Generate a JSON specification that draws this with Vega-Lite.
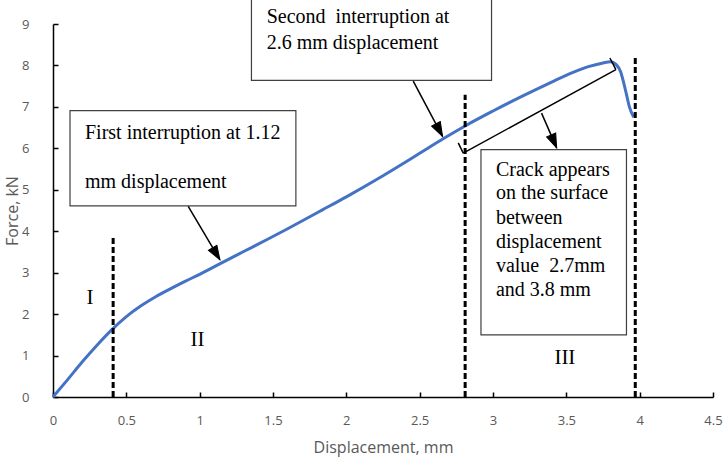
{
  "$schema": "https://vega.github.io/schema/vega-lite/v6.json",
  "width": 660,
  "height": 373,
  "autosize": {"type": "none"},
  "padding": {"left": 53, "top": 24, "right": 13, "bottom": 65},
  "background": "white",
  "config": {
    "view": {"stroke": null},
    "axis": {
      "domainColor": "#000000",
      "domainWidth": 1.5,
      "tickColor": "#000000",
      "tickWidth": 1.5,
      "tickSize": -5,
      "grid": false,
      "labelColor": "#595959",
      "labelFont": "Open Sans",
      "labelFontSize": 13,
      "titleColor": "#595959",
      "titleFont": "Open Sans",
      "titleFontSize": 16,
      "titleFontWeight": "normal"
    }
  },
  "datasets": {
    "curve": [
      {"x": 0, "y": 0}, {"x": 0.1, "y": 0.42}, {"x": 0.2, "y": 0.85}, {"x": 0.3, "y": 1.25},
      {"x": 0.4, "y": 1.62}, {"x": 0.5, "y": 1.94}, {"x": 0.6, "y": 2.2}, {"x": 0.7, "y": 2.42},
      {"x": 0.8, "y": 2.61}, {"x": 0.9, "y": 2.79}, {"x": 1.0, "y": 2.96}, {"x": 1.14, "y": 3.22},
      {"x": 1.3, "y": 3.51}, {"x": 1.46, "y": 3.8}, {"x": 1.6, "y": 4.06}, {"x": 1.84, "y": 4.52},
      {"x": 2.0, "y": 4.83}, {"x": 2.25, "y": 5.34}, {"x": 2.5, "y": 5.88}, {"x": 2.66, "y": 6.23},
      {"x": 2.81, "y": 6.54}, {"x": 3.0, "y": 6.9}, {"x": 3.2, "y": 7.26}, {"x": 3.4, "y": 7.6},
      {"x": 3.55, "y": 7.84}, {"x": 3.65, "y": 7.97}, {"x": 3.75, "y": 8.06}, {"x": 3.8, "y": 8.09},
      {"x": 3.84, "y": 8.02}, {"x": 3.87, "y": 7.85}, {"x": 3.89, "y": 7.6}, {"x": 3.91, "y": 7.3},
      {"x": 3.93, "y": 7.0}, {"x": 3.96, "y": 6.75}
    ],
    "dashes": [
      {"x": 0.41, "y": 0, "y2": 3.91},
      {"x": 2.81, "y": 0, "y2": 7.29},
      {"x": 3.97, "y": 0, "y2": 8.22}
    ],
    "boxes": [
      {"x": 0.116, "x2": 1.656, "y": 4.61, "y2": 6.91},
      {"x": 1.353, "x2": 2.99, "y": 7.64, "y2": 9.9},
      {"x": 2.918, "x2": 3.91, "y": 1.5, "y2": 5.97}
    ],
    "lines": [
      {"x": 0.922, "y": 4.6, "x2": 1.138, "y2": 3.31},
      {"x": 2.456, "y": 7.62, "x2": 2.656, "y2": 6.29},
      {"x": 2.797, "y": 5.886, "x2": 3.838, "y2": 7.9},
      {"x": 2.763, "y": 6.13, "x2": 2.797, "y2": 5.886},
      {"x": 3.797, "y": 8.18, "x2": 3.838, "y2": 7.9},
      {"x": 3.331, "y": 6.85, "x2": 3.434, "y2": 6.01}
    ],
    "texts": [
      {"x": 0.218, "y": 6.38, "label": "First interruption at 1.12"},
      {"x": 0.218, "y": 5.19, "label": "mm displacement"},
      {"x": 1.457, "y": 9.17, "label": "Second \u00a0interruption at"},
      {"x": 1.457, "y": 8.54, "label": "2.6 mm displacement"},
      {"x": 3.02, "y": 5.47, "label": "Crack appears"},
      {"x": 3.02, "y": 4.92, "label": "on the surface"},
      {"x": 3.02, "y": 4.32, "label": "between"},
      {"x": 3.02, "y": 3.75, "label": "displacement"},
      {"x": 3.02, "y": 3.16, "label": "value \u00a02.7mm"},
      {"x": 3.02, "y": 2.58, "label": "and 3.8 mm"}
    ],
    "numerals": [
      {"x": 0.252, "y": 2.38, "label": "I"},
      {"x": 0.986, "y": 1.38, "label": "II"},
      {"x": 3.49, "y": 0.93, "label": "III"}
    ]
  },
  "layer": [
    {
      "data": {"name": "curve"},
      "mark": {"type": "line", "color": "#4472C4", "strokeWidth": 3, "interpolate": "monotone"},
      "encoding": {
        "x": {"field": "x", "type": "quantitative", "scale": {"domain": [0, 4.5], "nice": false},
          "axis": {"values": [0, 0.5, 1, 1.5, 2, 2.5, 3, 3.5, 4, 4.5], "format": "~g", "title": "Displacement, mm", "labelPadding": 22, "titlePadding": 12, "labelFlush": false}},
        "y": {"field": "y", "type": "quantitative", "scale": {"domain": [0, 9], "nice": false},
          "axis": {"values": [0, 1, 2, 3, 4, 5, 6, 7, 8, 9], "format": "~g", "title": "Force, kN", "labelPadding": 29, "titlePadding": 1, "labelFlush": false}}
      }
    },
    {
      "data": {"name": "dashes"},
      "mark": {"type": "rule", "color": "#000000", "strokeWidth": 3, "strokeDash": [6, 3]},
      "encoding": {
        "x": {"field": "x", "type": "quantitative"},
        "y": {"field": "y", "type": "quantitative"},
        "y2": {"field": "y2"}
      }
    },
    {
      "data": {"name": "boxes"},
      "mark": {"type": "rect", "fill": "white", "stroke": "#404040", "strokeWidth": 1.2},
      "encoding": {
        "x": {"field": "x", "type": "quantitative"},
        "x2": {"field": "x2"},
        "y": {"field": "y", "type": "quantitative"},
        "y2": {"field": "y2"}
      }
    },
    {
      "data": {"name": "lines"},
      "mark": {"type": "rule", "color": "#000000", "strokeWidth": 1.5},
      "encoding": {
        "x": {"field": "x", "type": "quantitative"},
        "x2": {"field": "x2"},
        "y": {"field": "y", "type": "quantitative"},
        "y2": {"field": "y2"}
      }
    },
    {
      "data": {"values": [{"x": 1.138, "y": 3.31}]},
      "mark": {"type": "point", "shape": "M0,0L-0.42,1.2L0.42,1.2Z", "filled": true, "fill": "#000000", "stroke": "#000000", "strokeWidth": 1, "opacity": 1, "size": 550, "angle": 149},
      "encoding": {
        "x": {"field": "x", "type": "quantitative"},
        "y": {"field": "y", "type": "quantitative"}
      }
    },
    {
      "data": {"values": [{"x": 2.656, "y": 6.29}]},
      "mark": {"type": "point", "shape": "M0,0L-0.42,1.2L0.42,1.2Z", "filled": true, "fill": "#000000", "stroke": "#000000", "strokeWidth": 1, "opacity": 1, "size": 550, "angle": 152},
      "encoding": {
        "x": {"field": "x", "type": "quantitative"},
        "y": {"field": "y", "type": "quantitative"}
      }
    },
    {
      "data": {"values": [{"x": 3.434, "y": 6.01}]},
      "mark": {"type": "point", "shape": "M0,0L-0.42,1.2L0.42,1.2Z", "filled": true, "fill": "#000000", "stroke": "#000000", "strokeWidth": 1, "opacity": 1, "size": 550, "angle": 157},
      "encoding": {
        "x": {"field": "x", "type": "quantitative"},
        "y": {"field": "y", "type": "quantitative"}
      }
    },
    {
      "data": {"name": "texts"},
      "mark": {"type": "text", "font": "Liberation Serif", "fontSize": 20, "align": "left", "baseline": "middle", "color": "#000000"},
      "encoding": {
        "x": {"field": "x", "type": "quantitative"},
        "y": {"field": "y", "type": "quantitative"},
        "text": {"field": "label"}
      }
    },
    {
      "data": {"name": "numerals"},
      "mark": {"type": "text", "font": "Liberation Serif", "fontSize": 21, "align": "center", "baseline": "middle", "color": "#000000"},
      "encoding": {
        "x": {"field": "x", "type": "quantitative"},
        "y": {"field": "y", "type": "quantitative"},
        "text": {"field": "label"}
      }
    }
  ]
}
